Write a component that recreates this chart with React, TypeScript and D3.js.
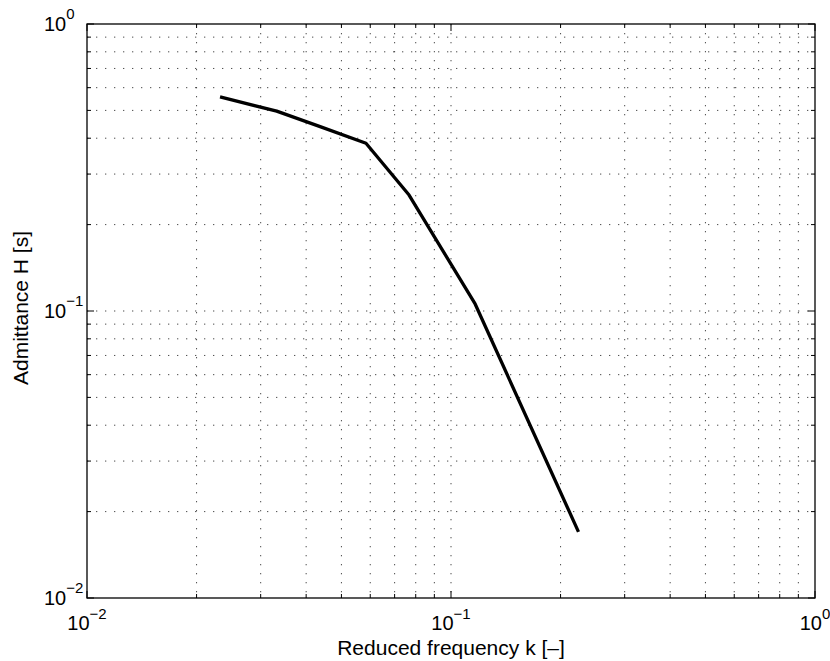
import React from "react";
import * as d3 from "d3";

const kValues = [0.0232, 0.0332, 0.0437, 0.0584, 0.0767, 0.1165, 0.224];
const hValues = [0.557, 0.497, 0.439, 0.384, 0.2535, 0.1058, 0.0170];
const majorTicks = [0.01, 0.1, 1];
const majorExponents = ["−2", "−1", "0"];
const xLabel = "Reduced frequency k [–]";
const yLabel = "Admittance H [s]";

const W = 830;
const H = 661;
const L = 87, T = 24, R = 815, B = 598;

function minorTicks(): number[] {
  const out: number[] = [];
  for (const d of [0.01, 0.1]) {
    for (let m = 2; m <= 9; m++) out.push(d * m);
  }
  return out;
}

export default function App() {
  const x = d3.scaleLog().domain([0.01, 1]).range([L, R]);
  const y = d3.scaleLog().domain([0.01, 1]).range([B, T]);
  const minors = minorTicks();
  const gridVals = [...majorTicks, ...minors];
  const data = kValues.map((k, i) => [k, hValues[i]] as [number, number]);
  const line = d3.line<[number, number]>().x(d => x(d[0])).y(d => y(d[1]));
  const font = "'Liberation Sans', Arial, Helvetica, sans-serif";
  const gridStyle = { stroke: "#000", strokeWidth: 1, strokeDasharray: "1.3 7.7", opacity: 0.7 };

  return (
    <svg width={W} height={H} style={{ position: "absolute", left: 0, top: 0, background: "#fff" }} fontFamily={font}>
      <rect x={0} y={0} width={W} height={H} fill="#fff" />
      {gridVals.filter(v => v > 0.01 && v < 1).map((v, i) => (
        <g key={"g" + i}>
          <line x1={x(v)} x2={x(v)} y1={T} y2={B} {...gridStyle} />
          <line x1={L} x2={R} y1={y(v)} y2={y(v)} {...gridStyle} />
        </g>
      ))}
      {gridVals.map((v, i) => {
        const len = majorTicks.includes(v) ? 7 : 4;
        return (
          <g key={"t" + i} stroke="#000" strokeWidth={1}>
            <line x1={x(v)} x2={x(v)} y1={B} y2={B - len} />
            <line x1={x(v)} x2={x(v)} y1={T} y2={T + len} />
            <line x1={L} x2={L + len} y1={y(v)} y2={y(v)} />
            <line x1={R} x2={R - len} y1={y(v)} y2={y(v)} />
          </g>
        );
      })}
      <path d={line(data) || ""} fill="none" stroke="#000" strokeWidth={3.3} strokeLinejoin="round" />
      <rect x={L} y={T} width={R - L} height={B - T} fill="none" stroke="#000" strokeWidth={1.3} />
      {majorTicks.map((v, i) => (
        <text key={"xl" + i} x={x(v)} y={630} textAnchor="middle" fontSize={20} fill="#000">
          10<tspan fontSize={15} dy={-11}>{majorExponents[i]}</tspan>
        </text>
      ))}
      {majorTicks.map((v, i) => (
        <text key={"yl" + i} x={44} y={y(v) + 6.5} textAnchor="start" fontSize={20} fill="#000">
          10<tspan fontSize={15} dy={-12}>{majorExponents[i]}</tspan>
        </text>
      ))}
      <text x={(L + R) / 2} y={655} textAnchor="middle" fontSize={21} fill="#000">{xLabel}</text>
      <text transform={`translate(28,${(T + B) / 2 - 3}) rotate(-90)`} textAnchor="middle" fontSize={21} fill="#000">{yLabel}</text>
    </svg>
  );
}
